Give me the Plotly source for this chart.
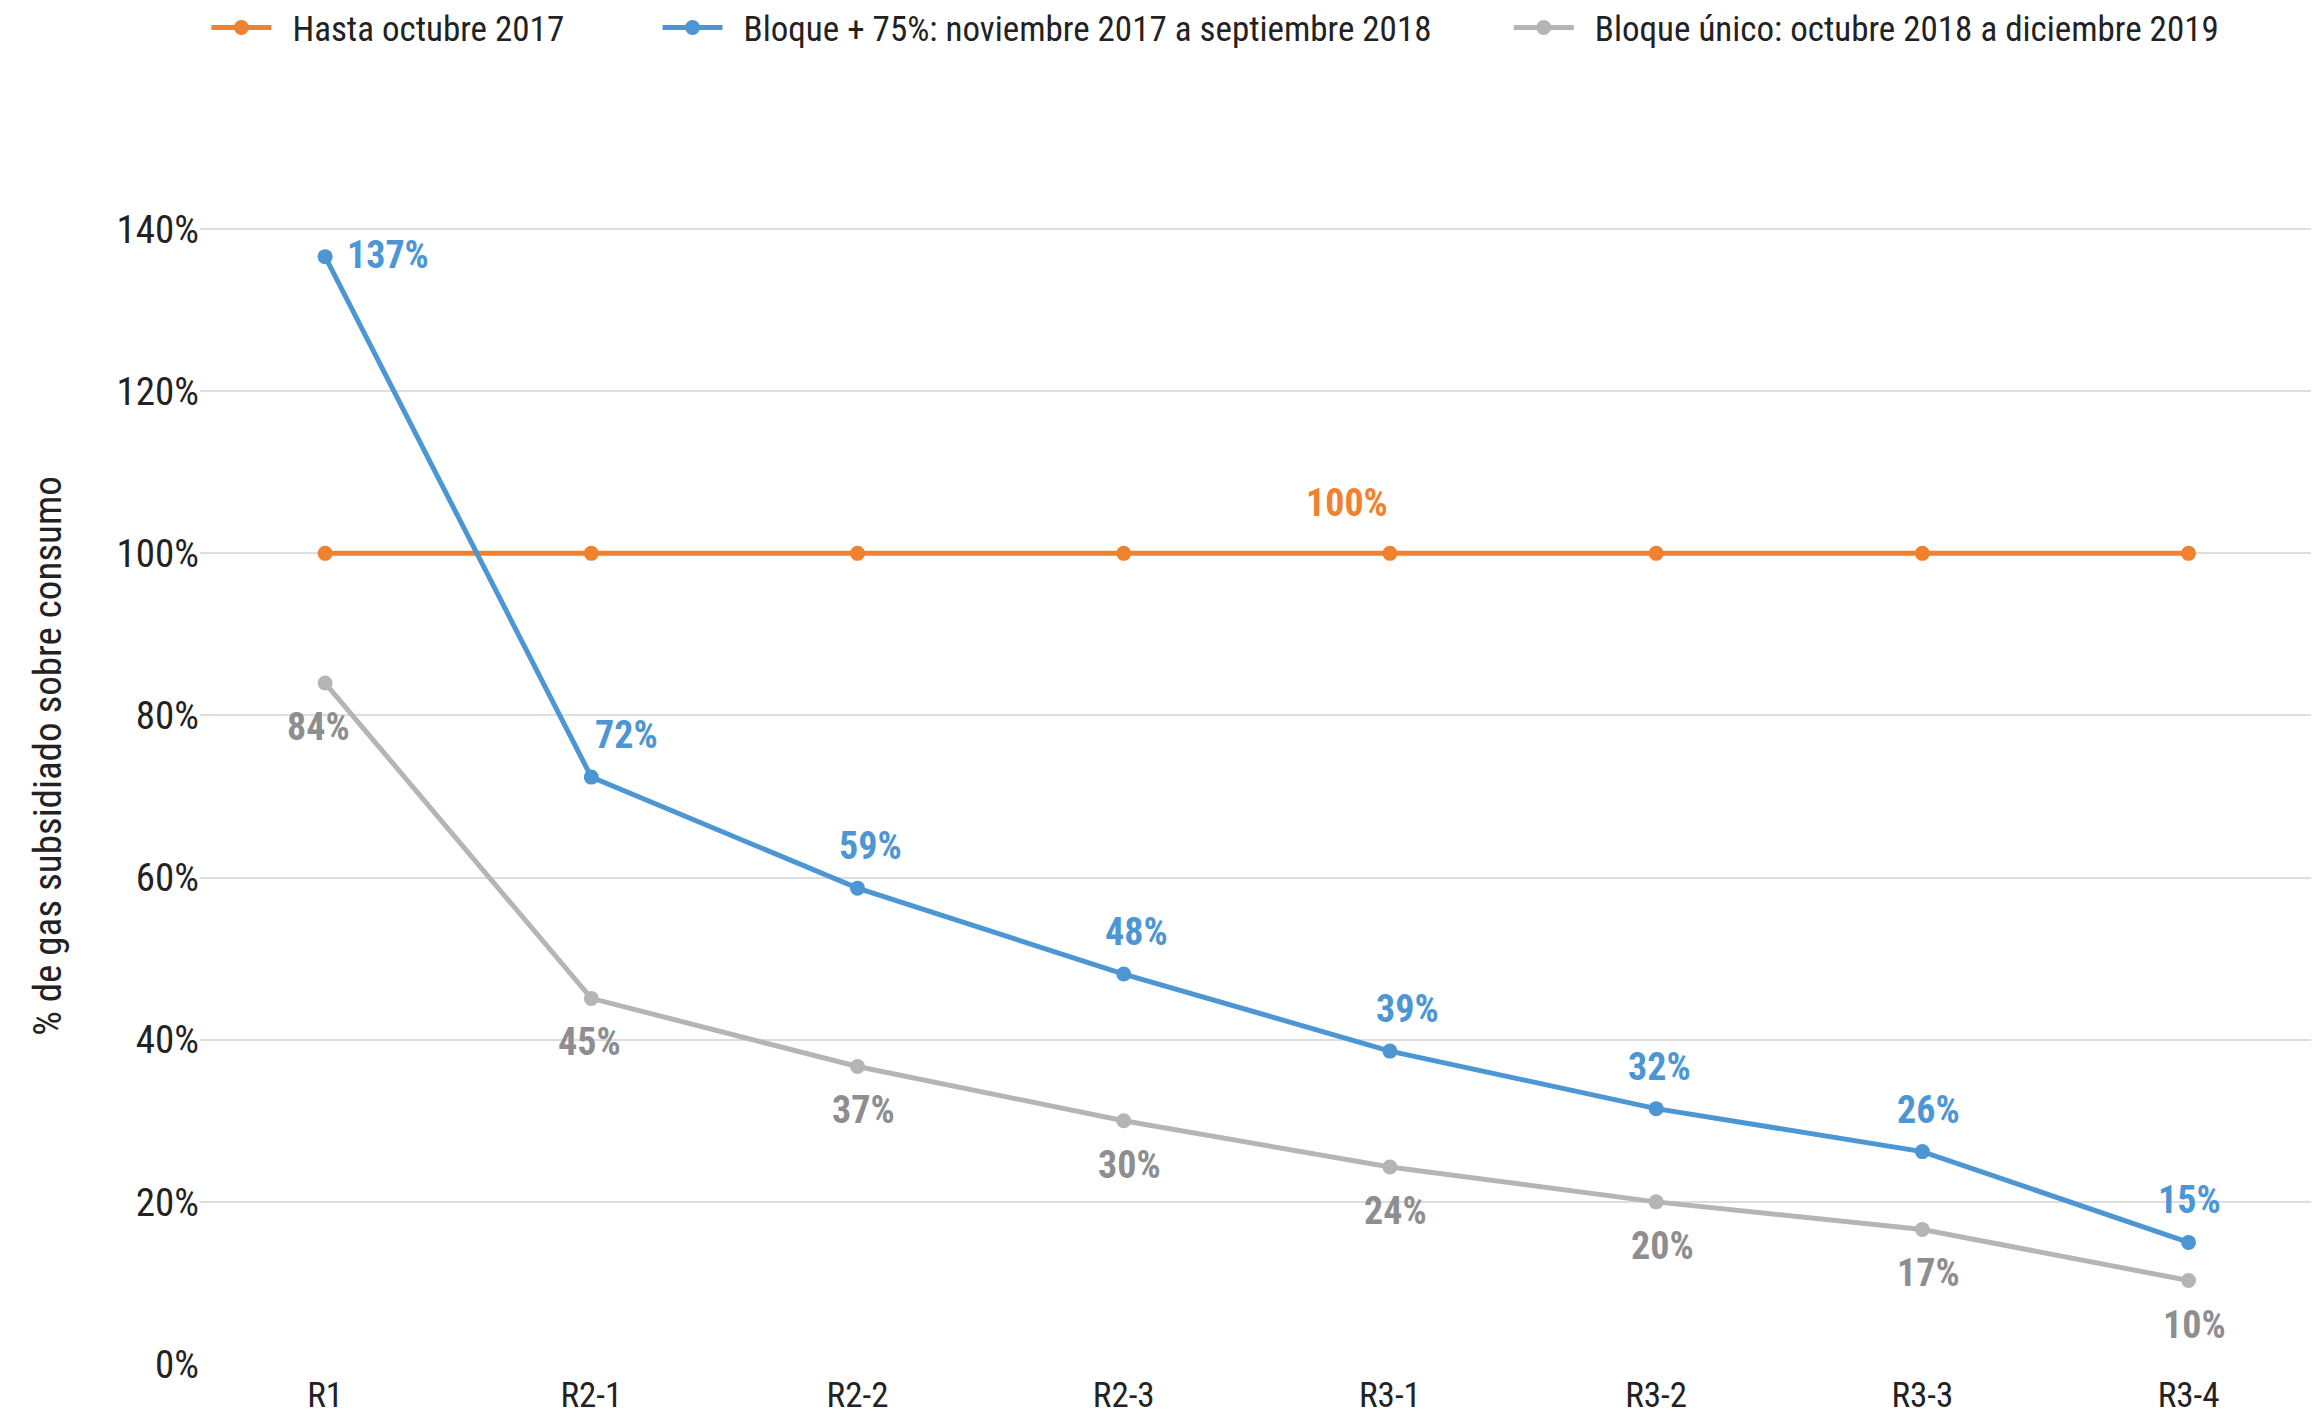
import plotly.graph_objects as go

categories = ["R1", "R2-1", "R2-2", "R2-3", "R3-1", "R3-2", "R3-3", "R3-4"]
hasta_oct_2017 = [100, 100, 100, 100, 100, 100, 100, 100]
bloque_75 = [136.6, 72.4, 58.7, 48.1, 38.6, 31.5, 26.2, 15.0]
bloque_unico = [84.0, 45.1, 36.7, 30.0, 24.3, 20.0, 16.6, 10.3]
y_ticks = [0, 20, 40, 60, 80, 100, 120, 140]
y_tick_labels = [f"{v}%" for v in y_ticks]

names = [
    "Hasta octubre 2017",
    "Bloque + 75%: noviembre 2017 a septiembre 2018",
    "Bloque único: octubre 2018 a diciembre 2019",
]
NB = "\u00a0"
legend_pre = [NB * 2, NB * 2, NB * 2]
legend_post = [NB * 11, NB * 9, ""]

ORANGE = "#F0812F"
BLUE = "#4C96D3"
GRAY = "#B5B5B7"
GRAY_TEXT = "#8E8E90"
FONT = "Liberation Sans Narrow, Roboto Condensed, Roboto, sans-serif"

fig = go.Figure()
for i, (vals, col) in enumerate([(hasta_oct_2017, ORANGE), (bloque_75, BLUE), (bloque_unico, GRAY)]):
    fig.add_trace(go.Scatter(
        x=categories, y=vals, name=legend_pre[i] + names[i] + legend_post[i], mode="lines+markers",
        line=dict(color=col, width=5), marker=dict(color=col, size=15),
        hoverinfo="skip",
    ))

LBL = 38
annotations = []
annotations.append(dict(x=categories[4], y=hasta_oct_2017[4], text=f"{round(hasta_oct_2017[4])}%",
                        showarrow=False, xanchor="right", yanchor="middle", xshift=0, yshift=50,
                        font=dict(family=FONT, size=LBL, color=ORANGE, weight="bold")))
blue_dx = [0, 35, 13, 13, 18, 3, 6, 1]
for i, (c, v) in enumerate(zip(categories, bloque_75)):
    if i == 0:
        annotations.append(dict(x=c, y=v, text=f"{round(v)}%", showarrow=False, xanchor="left",
                                yanchor="middle", xshift=20, yshift=2,
                                font=dict(family=FONT, size=LBL, color=BLUE, weight="bold")))
    else:
        annotations.append(dict(x=c, y=v, text=f"{round(v)}%", showarrow=False, xanchor="center",
                                yanchor="middle", xshift=blue_dx[i], yshift=42,
                                font=dict(family=FONT, size=LBL, color=BLUE, weight="bold")))
gray_dx = [-7, -2, 6, 6, 6, 6, 6, 6]
for i, (c, v) in enumerate(zip(categories, bloque_unico)):
    annotations.append(dict(x=c, y=v, text=f"{round(v)}%", showarrow=False, xanchor="center",
                            yanchor="middle", xshift=gray_dx[i], yshift=-44,
                            font=dict(family=FONT, size=LBL, color=GRAY_TEXT, weight="bold")))

# The page body adds an 8px offset; the figure is sized to fill the rest of the window.
fig.update_layout(
    width=2311, height=1413,
    paper_bgcolor="white", plot_bgcolor="white",
    margin=dict(l=192, r=0, t=140, b=57),
    font=dict(family=FONT, color="#222222"),
    showlegend=True,
    legend=dict(orientation="h", x=0.003, xanchor="left", y=0.986, yref="container", yanchor="middle",
                font=dict(family=FONT, size=35, color="#222222"), itemwidth=60,
                traceorder="normal"),
    annotations=annotations,
    xaxis=dict(type="category", range=[-0.47, 7.49], showgrid=False, zeroline=False, showline=False,
               ticks="", automargin=False, ticklabelstandoff=7,
               tickfont=dict(family=FONT, size=35, color="#222222")),
    yaxis=dict(range=[0, 150], tickvals=y_ticks, ticktext=y_tick_labels, showgrid=True,
               gridcolor="#DDDDDD", gridwidth=2, zeroline=False, showline=False, ticks="",
               automargin=False,
               tickfont=dict(family=FONT, size=39, color="#222222"),
               title=dict(text="% de gas subsidiado sobre consumo", standoff=42,
                          font=dict(family=FONT, size=39, color="#222222"))),
)

fig.write_html("out.html")
